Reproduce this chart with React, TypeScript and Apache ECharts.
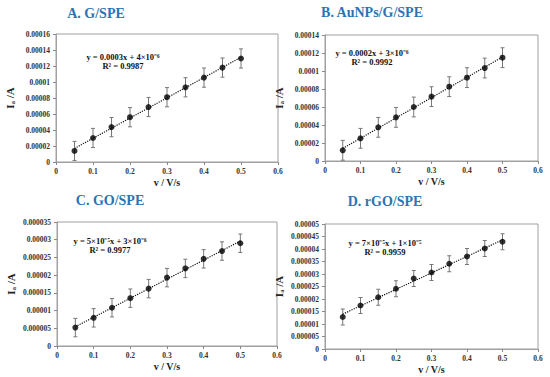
import React, { useEffect, useRef } from "react";
import * as echarts from "echarts";

const X_VALUES = [0.05, 0.1, 0.15, 0.2, 0.25, 0.3, 0.35, 0.4, 0.45, 0.5];

const TITLES = ["A. G/SPE", "B. AuNPs/G/SPE", "C. GO/SPE", "D. rGO/SPE"];

const A_Y = [1.38e-5, 3.0e-5, 4.36e-5, 5.6e-5, 6.87e-5, 8.1e-5, 9.34e-5, 1.055e-4, 1.18e-4, 1.294e-4];
const B_Y = [1.19e-5, 2.52e-5, 3.74e-5, 4.85e-5, 6.0e-5, 7.15e-5, 8.26e-5, 9.26e-5, 1.033e-4, 1.148e-4];
const C_Y = [5.2e-6, 7.95e-6, 1.08e-5, 1.35e-5, 1.62e-5, 1.93e-5, 2.19e-5, 2.46e-5, 2.68e-5, 2.9e-5];
const D_Y = [1.28e-5, 1.74e-5, 2.07e-5, 2.41e-5, 2.82e-5, 3.06e-5, 3.41e-5, 3.7e-5, 4.02e-5, 4.29e-5];

const A_ERR = [1.2e-5, 1.2e-5, 1.2e-5, 1.2e-5, 1.2e-5, 1.2e-5, 1.2e-5, 1.2e-5, 1.2e-5, 1.2e-5];
const B_ERR = [1.1e-5, 1.1e-5, 1.1e-5, 1.1e-5, 1.1e-5, 1.1e-5, 1.1e-5, 1.1e-5, 1.1e-5, 1.1e-5];
const C_ERR = [2.6e-6, 2.6e-6, 2.6e-6, 2.6e-6, 2.6e-6, 2.6e-6, 2.6e-6, 2.6e-6, 2.6e-6, 2.6e-6];
const D_ERR = [3.2e-6, 3.2e-6, 3.2e-6, 3.2e-6, 3.2e-6, 3.2e-6, 3.2e-6, 3.2e-6, 3.2e-6, 3.2e-6];

const Y_MAX = [0.00016, 0.00014, 0.000035, 0.00005];
const Y_INTERVAL = [0.00002, 0.00002, 0.000005, 0.000005];
const Y_DECIMALS = [5, 5, 6, 6];

const EQUATIONS = [
  "y = 0.0003x + 4×10⁻⁶",
  "y = 0.0002x + 3×10⁻⁶",
  "y = 5×10⁻⁵x + 3×10⁻⁶",
  "y = 7×10⁻⁵x + 1×10⁻⁵",
];
const R_SQUARED = ["R² = 0.9987", "R² = 0.9992", "R² = 0.9977", "R² = 0.9959"];

const SERIES_Y = [A_Y, B_Y, C_Y, D_Y];
const SERIES_ERR = [A_ERR, B_ERR, C_ERR, D_ERR];

const GRIDS = [
  { left: 56, top: 34, width: 222, height: 128 },
  { left: 325, top: 35, width: 213, height: 126 },
  { left: 57, top: 222, width: 220, height: 124 },
  { left: 325, top: 224, width: 213, height: 125 },
];
const TITLE_POS = [
  { x: 96, y: 13 },
  { x: 372, y: 12 },
  { x: 110, y: 200 },
  { x: 385, y: 201 },
];
const EQ_POS = [
  { x: 123, y: 57 },
  { x: 372, y: 53 },
  { x: 110, y: 241 },
  { x: 385, y: 243 },
];

const FONT = "'Liberation Serif', 'Times New Roman', serif";

function fmt(v: number, d: number) {
  if (Math.abs(v) < 1e-12) return "0";
  let s = v.toFixed(d);
  if (s.indexOf(".") >= 0) s = s.replace(/0+$/, "").replace(/\.$/, "");
  return s;
}

function regression(xs: number[], ys: number[]) {
  const n = xs.length;
  const mx = xs.reduce((a, b) => a + b, 0) / n;
  const my = ys.reduce((a, b) => a + b, 0) / n;
  let sxy = 0, sxx = 0;
  for (let i = 0; i < n; i++) {
    sxy += (xs[i] - mx) * (ys[i] - my);
    sxx += (xs[i] - mx) * (xs[i] - mx);
  }
  const slope = sxy / sxx;
  return { slope, intercept: my - slope * mx };
}

export default function App() {
  const ref = useRef<HTMLDivElement>(null);
  useEffect(() => {
    if (!ref.current) return;
    const chart = echarts.init(ref.current, undefined, { renderer: "svg" });

    const grid: any[] = [];
    const xAxis: any[] = [];
    const yAxis: any[] = [];
    const series: any[] = [];
    const graphic: any[] = [];

    for (let k = 0; k < 4; k++) {
      grid.push({
        ...GRIDS[k],
        show: true,
        borderColor: "#a0a0a0",
        borderWidth: 1,
        backgroundColor: "transparent",
      });
      xAxis.push({
        type: "value",
        gridIndex: k,
        min: 0,
        max: 0.6,
        interval: 0.1,
        name: "v / V/s",
        nameLocation: "middle",
        nameGap: 15,
        nameTextStyle: { fontFamily: FONT, fontWeight: "bold", fontSize: 10, color: "#222" },
        axisLine: { show: true, lineStyle: { color: "#a0a0a0" } },
        axisTick: { show: true, length: 3, lineStyle: { color: "#888" } },
        axisLabel: {
          fontFamily: FONT,
          fontWeight: "bold",
          fontSize: 7.5,
          color: "#333",
          margin: 5,
          formatter: (v: number) => fmt(v, 1),
        },
        splitLine: { show: false },
      });
      yAxis.push({
        type: "value",
        gridIndex: k,
        min: 0,
        max: Y_MAX[k],
        interval: Y_INTERVAL[k],
        name: "{i|I}{s|a}{i| /A}",
        nameLocation: "middle",
        nameRotate: 90,
        nameGap: 40,
        nameTextStyle: {
          rich: {
            i: { fontFamily: FONT, fontWeight: "bold", fontSize: 11, color: "#222" },
            s: { fontFamily: FONT, fontWeight: "bold", fontSize: 6.5, color: "#222", padding: [5, 0, 0, 0] },
          },
        },
        axisLine: { show: true, lineStyle: { color: "#a0a0a0" } },
        axisTick: { show: true, length: 3, lineStyle: { color: "#888" } },
        axisLabel: {
          fontFamily: FONT,
          fontWeight: "bold",
          fontSize: 7.5,
          color: "#333",
          margin: 6,
          formatter: (v: number) => fmt(v, Y_DECIMALS[k]),
        },
        splitLine: { show: false },
      });

      const ys = SERIES_Y[k];
      const errs = SERIES_ERR[k];
      const { slope, intercept } = regression(X_VALUES, ys);
      const x0 = X_VALUES[0];
      const x1 = X_VALUES[X_VALUES.length - 1];

      series.push({
        type: "line",
        xAxisIndex: k,
        yAxisIndex: k,
        data: [
          [x0, intercept + slope * x0],
          [x1, intercept + slope * x1],
        ],
        symbol: "none",
        lineStyle: { color: "#111", width: 1.2, type: "dotted" },
        z: 2,
      });
      series.push({
        type: "custom",
        xAxisIndex: k,
        yAxisIndex: k,
        data: X_VALUES.map((x, i) => [x, ys[i], errs[i]]),
        renderItem: (params: any, api: any) => {
          const x = api.value(0);
          const y = api.value(1);
          const e = api.value(2);
          const hi = api.coord([x, y + e]);
          const lo = api.coord([x, y - e]);
          const w = 2;
          const st = { stroke: "#777", lineWidth: 1 };
          return {
            type: "group",
            children: [
              { type: "line", shape: { x1: hi[0], y1: hi[1], x2: lo[0], y2: lo[1] }, style: st },
              { type: "line", shape: { x1: hi[0] - w, y1: hi[1], x2: hi[0] + w, y2: hi[1] }, style: st },
              { type: "line", shape: { x1: lo[0] - w, y1: lo[1], x2: lo[0] + w, y2: lo[1] }, style: st },
            ],
          };
        },
        z: 3,
      });
      series.push({
        type: "scatter",
        xAxisIndex: k,
        yAxisIndex: k,
        data: X_VALUES.map((x, i) => [x, ys[i]]),
        symbol: "circle",
        symbolSize: 6,
        itemStyle: { color: "#000" },
        z: 4,
      });

      graphic.push({
        type: "text",
        x: TITLE_POS[k].x,
        y: TITLE_POS[k].y,
        style: {
          text: TITLES[k],
          font: `bold 14px ${FONT}`,
          fill: "#2a74b5",
          align: "center",
          verticalAlign: "middle",
        },
      });
      graphic.push({
        type: "text",
        x: EQ_POS[k].x,
        y: EQ_POS[k].y,
        style: {
          text: EQUATIONS[k],
          font: `bold 8.5px ${FONT}`,
          fill: "#111",
          align: "center",
          verticalAlign: "middle",
        },
      });
      graphic.push({
        type: "text",
        x: EQ_POS[k].x,
        y: EQ_POS[k].y + 8.5,
        style: {
          text: R_SQUARED[k],
          font: `bold 8.5px ${FONT}`,
          fill: "#111",
          align: "center",
          verticalAlign: "middle",
        },
      });
    }

    chart.setOption({
      animation: false,
      backgroundColor: "#fff",
      grid,
      xAxis,
      yAxis,
      series,
      graphic,
    });
    return () => chart.dispose();
  }, []);

  return (
    <div
      ref={ref}
      style={{ position: "fixed", left: 0, top: 0, width: 550, height: 377 }}
    />
  );
}
